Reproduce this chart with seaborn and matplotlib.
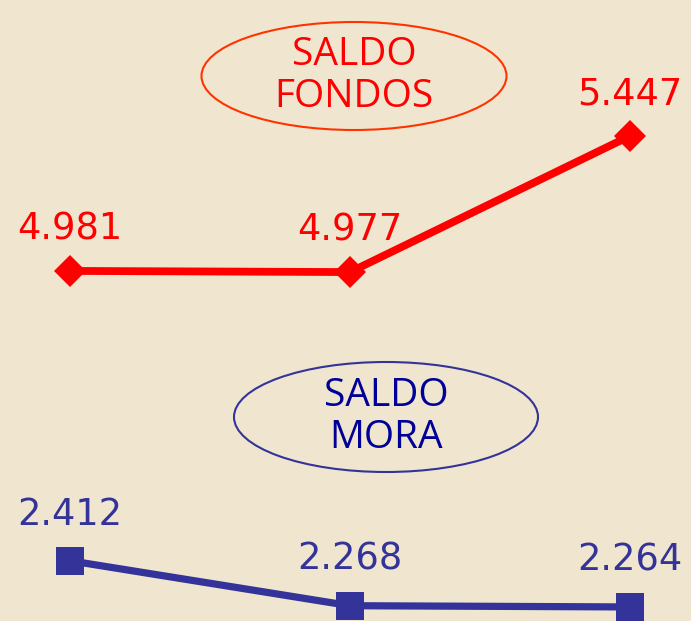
import matplotlib
matplotlib.use('Agg')
import matplotlib.pyplot as plt
import seaborn as sns
import pandas as pd
from matplotlib.patches import Ellipse

# ---- data ----
periods = [0, 1, 2]
fondos = [4.981, 4.977, 5.447]
mora = [2.412, 2.268, 2.264]
fondos_labels = ['4.981', '4.977', '5.447']
mora_labels = ['2.412', '2.268', '2.264']
title_fondos = 'SALDO\nFONDOS'
title_mora = 'SALDO\nMORA'

BG = '#F0E6D0'
RED = '#FF0000'
BLUE = '#333399'
NAVY = '#000099'

sns.set_style('white')
plt.rcParams['font.family'] = ['DejaVu Sans']

W, H = 691, 621
fig = plt.figure(figsize=(W / 100, H / 100), dpi=100, facecolor=BG)

ax_top = fig.add_axes([0, 1 - 330 / H, 1, 330 / H])
ax_bot = fig.add_axes([0, 0, 1, 291 / H])

df_f = pd.DataFrame({'x': periods, 'y': fondos})
df_m = pd.DataFrame({'x': periods, 'y': mora})

sns.lineplot(data=df_f, x='x', y='y', ax=ax_top, color=RED, lw=5.6,
             marker='D', markersize=16.5, markeredgewidth=0)
sns.lineplot(data=df_m, x='x', y='y', ax=ax_bot, color=BLUE, lw=5.2,
             marker='s', markersize=20, markeredgewidth=0)

xlim = (-70 / 280, 621 / 280)
ax_top.set_xlim(*xlim)
ax_bot.set_xlim(*xlim)
ax_top.set_ylim(4.777, 5.9165)
ax_bot.set_ylim(2.219, 3.1515)

for x, y, lab in zip(periods, fondos, fondos_labels):
    ax_top.annotate(lab, (x, y), xytext=(0, 30), textcoords='offset points',
                    ha='center', va='center', fontsize=26.5, color=RED,
                    family='DejaVu Sans')
for x, y, lab in zip(periods, mora, mora_labels):
    ax_bot.annotate(lab, (x, y), xytext=(0, 33.5), textcoords='offset points',
                    ha='center', va='center', fontsize=26.5, color=BLUE,
                    family='DejaVu Sans')

for ax in (ax_top, ax_bot):
    ax.set_facecolor('none')
    ax.axis('off')

ov = fig.add_axes([0, 0, 1, 1], zorder=-1)
ov.set_xlim(0, W)
ov.set_ylim(H, 0)
ov.axis('off')
ov.add_patch(Ellipse((354, 76), 305, 108, fill=False, ec='#FF3300', lw=1.5))
ov.add_patch(Ellipse((386, 417), 304, 110, fill=False, ec=BLUE, lw=1.5))
ov.text(354, 76, title_fondos, ha='center', va='center', fontsize=28,
        color=RED, linespacing=1.15, fontweight='medium',
        family=['Open Sans', 'DejaVu Sans'])
ov.text(386, 417, title_mora, ha='center', va='center', fontsize=28,
        color=NAVY, linespacing=1.15, fontweight='medium',
        family=['Open Sans', 'DejaVu Sans'])

fig.savefig('out.png', dpi=100, facecolor=BG)
